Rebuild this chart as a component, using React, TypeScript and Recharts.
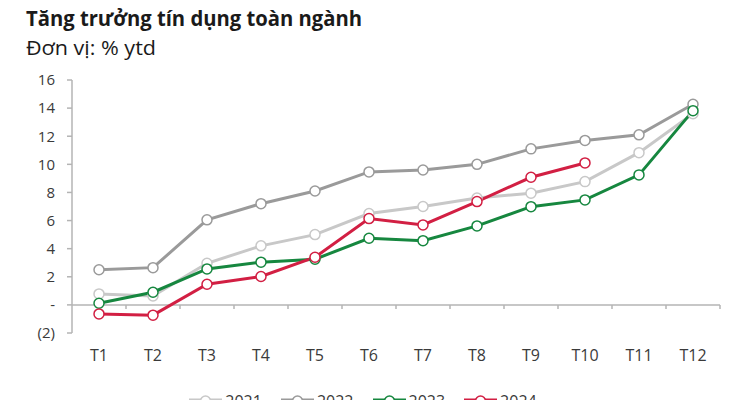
import React from 'react';
import { LineChart, Line, XAxis, YAxis, ReferenceLine, Legend } from 'recharts';

const categories = ['T1', 'T2', 'T3', 'T4', 'T5', 'T6', 'T7', 'T8', 'T9', 'T10', 'T11', 'T12'];
const s2021 = [0.78, 0.64, 2.96, 4.2, 5.0, 6.5, 7.0, 7.6, 7.95, 8.77, 10.83, 13.6];
const s2022 = [2.5, 2.65, 6.05, 7.2, 8.1, 9.46, 9.6, 10.0, 11.1, 11.7, 12.1, 14.27];
const s2023 = [0.12, 0.9, 2.56, 3.04, 3.25, 4.74, 4.57, 5.62, 6.99, 7.47, 9.25, 13.82];
const s2024 = [-0.64, -0.73, 1.47, 2.02, 3.39, 6.14, 5.69, 7.35, 9.08, 10.1, null, null];
const yTicks = [-2, 0, 2, 4, 6, 8, 10, 12, 14, 16];
const seriesNames = ['2021', '2022', '2023', '2024'];
const seriesColors = ['#c8c8c8', '#9a9a9a', '#16873f', '#d21f43'];

const data = categories.map((c, i) => ({
  x: i + 1,
  label: c,
  y2021: s2021[i],
  y2022: s2022[i],
  y2023: s2023[i],
  y2024: s2024[i],
}));
const xTicks = categories.map((_, i) => i + 1);
const boundaries = categories.map((_, i) => i + 1.5);

const FONT = '"Open Sans", sans-serif';
const TEXT = '#3a3a3a';
const AXIS = '#b4b4b4';

const fmtY = (v: number) => (v === 0 ? '-' : v < 0 ? `(${Math.abs(v)})` : `${v}`);

const LegendContent = () => (
  <div style={{ display: 'flex', justifyContent: 'center', marginLeft: 6, fontFamily: FONT }}>
    {seriesNames.map((n, i) => (
      <div key={n} style={{ display: 'flex', alignItems: 'center', marginRight: i < 3 ? 19 : 0 }}>
        <svg width={33} height={14}>
          <line x1={0} y1={7} x2={33} y2={7} stroke={seriesColors[i]} strokeWidth={5} />
          <circle cx={16.5} cy={7} r={5} fill="#fff" stroke={seriesColors[i]} strokeWidth={1.5} />
        </svg>
        <span style={{ marginLeft: 3, fontSize: 16, color: TEXT }}>{n}</span>
      </div>
    ))}
  </div>
);

export default function App() {
  const keys = ['y2021', 'y2022', 'y2023', 'y2024'];
  return (
    <div style={{ position: 'absolute', left: 0, top: 0, width: 750, height: 420, background: '#fff' }}>
      <svg width={750} height={70} style={{ position: 'absolute', left: 0, top: 0 }}>
        <text x={26} y={26} fontFamily={FONT} fontWeight={700} fontSize={21} fill="#1a1a1a" textLength={336} lengthAdjust="spacingAndGlyphs">
          Tăng trưởng tín dụng toàn ngành
        </text>
        <text x={26} y={55} fontFamily={FONT} fontSize={20} fill="#1a1a1a" textLength={130} lengthAdjust="spacingAndGlyphs">
          Đơn vị: % ytd
        </text>
      </svg>
      <LineChart width={750} height={420} data={data} margin={{ top: 80, right: 30, bottom: 0, left: 0 }}>
        <XAxis
          dataKey="x"
          type="number"
          domain={[0.5, 12.5]}
          ticks={xTicks}
          tickFormatter={(v: number) => categories[v - 1]}
          axisLine={false}
          tickLine={false}
          height={57}
          tickMargin={11}
          tick={{ fill: TEXT, fontSize: 16, fontFamily: FONT }}
          interval={0}
        />
        <YAxis
          type="number"
          domain={[-2, 16]}
          ticks={yTicks}
          tickFormatter={fmtY}
          width={72}
          axisLine={{ stroke: AXIS, strokeWidth: 1.5 }}
          tickLine={{ stroke: AXIS, strokeWidth: 1.5 }}
          tickSize={5}
          tickMargin={12}
          tick={{ fill: TEXT, fontSize: 15, fontFamily: FONT }}
          interval={0}
        />
        <ReferenceLine y={0} stroke={AXIS} strokeWidth={1.5} />
        {boundaries.map((b) => (
          <ReferenceLine
            key={b}
            segment={[{ x: b, y: 0 }, { x: b, y: -0.3 }]}
            stroke={AXIS}
            strokeWidth={1.5}
          />
        ))}
        <Legend verticalAlign="bottom" height={30} content={() => <LegendContent />} />
        {keys.map((k, i) => (
          <Line
            key={k}
            dataKey={k}
            name={seriesNames[i]}
            stroke={seriesColors[i]}
            strokeWidth={3}
            dot={{ r: 5, fill: '#fff', stroke: seriesColors[i], strokeWidth: 1.5 }}
            activeDot={false}
            isAnimationActive={false}
            connectNulls={false}
          />
        ))}
      </LineChart>
    </div>
  );
}
